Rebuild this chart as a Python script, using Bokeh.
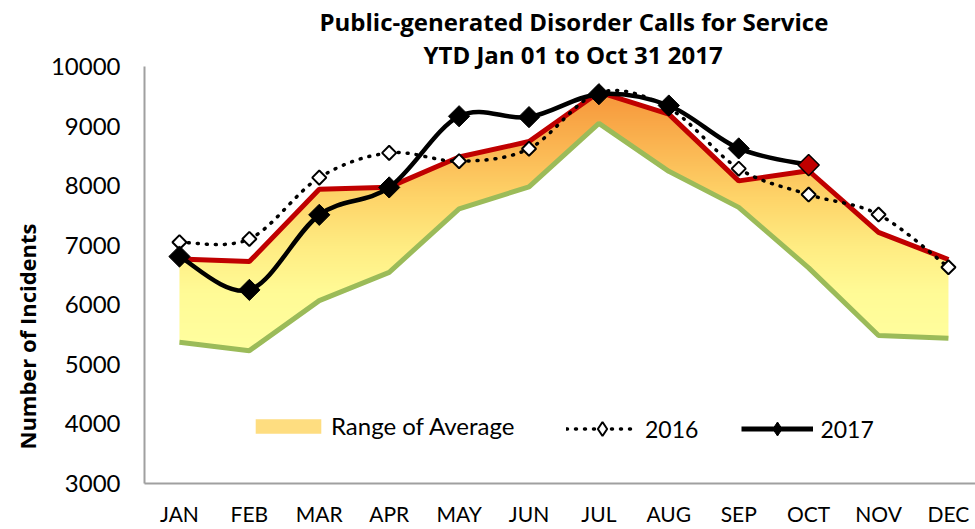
import numpy as np
from bokeh.plotting import figure
from bokeh.models import Range1d, FixedTicker, Legend, LegendItem, Title
from bokeh.embed import file_html
from bokeh.resources import INLINE

# ---------------- data ----------------
months = ["JAN", "FEB", "MAR", "APR", "MAY", "JUN", "JUL", "AUG", "SEP", "OCT", "NOV", "DEC"]
avg_high = [6770, 6725, 7940, 7975, 8480, 8740, 9570, 9200, 8080, 8250, 7215, 6760]
avg_low = [5370, 5230, 6070, 6545, 7610, 7980, 9045, 8240, 7635, 6620, 5485, 5440]
calls_2016 = [7050, 7105, 8135, 8550, 8410, 8620, 9560, 9300, 8285, 7850, 7515, 6630]
calls_2017 = [6810, 6250, 7510, 7970, 9165, 9150, 9535, 9345, 8625, 8345]
y_ticks = [3000, 4000, 5000, 6000, 7000, 8000, 9000, 10000]

FONT = "Lato"
BOLD_FONT = "Open Sans"
AXIS_GRAY = "#A0A0A0"

p = figure(width=975, height=529, output_backend="svg", toolbar_location=None,
           title=None,
           x_range=Range1d(-0.5, 11.387), y_range=Range1d(3000, 10000),
           min_border_left=144, min_border_right=0, min_border_top=66, min_border_bottom=46)
p.grid.visible = False
p.outline_line_color = None
p.background_fill_color = "white"

idx = np.arange(len(months))

# ---------- gradient band (Range of Average) ----------
g_lo, g_hi = min(avg_low), max(avg_high)
rows = 256
vals = np.linspace(g_lo, g_hi, rows)
stop_v = [5200, 6200, 7000, 7800, 8600, 9600]
stop_rgb = [(255, 255, 160), (255, 251, 150), (255, 236, 130), (254, 212, 105), (251, 184, 84), (247, 150, 58)]
img = np.empty((rows, 2, 4), dtype=np.uint8)
for c in range(3):
    img[:, :, c] = np.interp(vals, stop_v, [s[c] for s in stop_rgb]).astype(np.uint8)[:, None]
img[:, :, 3] = 255
p.image_rgba(image=[img.view(np.uint32).reshape(rows, 2)], x=0, y=g_lo,
             dw=len(months) - 1, dh=g_hi - g_lo)
# white masks outside the band (padded a little sideways to hide image edge seams)
pad = 0.1
mx = [idx[0] - pad] + list(idx) + [idx[-1] + pad]
mhi = [avg_high[0]] + avg_high + [avg_high[-1]]
mlo = [avg_low[0]] + avg_low + [avg_low[-1]]
p.varea(x=mx, y1=mhi, y2=g_hi + 200, fill_color="white")
p.varea(x=mx, y1=g_lo - 200, y2=mlo, fill_color="white")

p.line(idx, avg_low, line_color="#9BBB59", line_width=5)
p.line(idx, avg_high, line_color="#C00000", line_width=5)


# ---------- smoothed series ----------
def smooth(xs, ys):
    xs = list(xs); ys = list(ys); n = len(ys)
    seg = dict(x0=[], y0=[], x1=[], y1=[], cx0=[], cy0=[], cx1=[], cy1=[])
    for i in range(n - 1):
        a = max(i - 1, 0); d = min(i + 2, n - 1)
        seg["x0"].append(xs[i]); seg["y0"].append(ys[i])
        seg["x1"].append(xs[i + 1]); seg["y1"].append(ys[i + 1])
        seg["cx0"].append(xs[i] + (xs[i + 1] - xs[a]) / 6.0)
        seg["cy0"].append(ys[i] + (ys[i + 1] - ys[a]) / 6.0)
        seg["cx1"].append(xs[i + 1] - (xs[d] - xs[i]) / 6.0)
        seg["cy1"].append(ys[i + 1] - (ys[d] - ys[i]) / 6.0)
    return seg


x16 = idx[:len(calls_2016)]
x17 = idx[:len(calls_2017)]
p.bezier(**smooth(x16, calls_2016), line_color="black", line_width=3.5,
         line_dash="1 8", line_cap="round")
p.scatter(x16, calls_2016, marker="square", angle=np.pi / 4, size=10,
          fill_color="white", line_color="black", line_width=2)

p.bezier(**smooth(x17, calls_2017), line_color="black", line_width=4.5)
p.scatter(x17[:-1], calls_2017[:-1], marker="square", angle=np.pi / 4, size=15,
          fill_color="black", line_color="black", line_width=1)
p.scatter(x17[-1:], calls_2017[-1:], marker="square", angle=np.pi / 4, size=15,
          fill_color="#C00000", line_color="black", line_width=1.5)

# ---------- axes ----------
p.xaxis.ticker = FixedTicker(ticks=list(idx))
p.xaxis.major_label_overrides = {int(i): m for i, m in zip(idx, months)}
p.yaxis.ticker = FixedTicker(ticks=y_ticks)
for ax in (p.xaxis, p.yaxis):
    ax.axis_line_color = AXIS_GRAY
    ax.axis_line_width = 2
    ax.major_tick_line_color = None
    ax.minor_tick_line_color = None
    ax.major_tick_out = 0
    ax.major_tick_in = 0
    ax.major_label_text_font = FONT
    ax.major_label_text_color = "black"
p.xaxis.major_label_text_font_size = "21px"
p.yaxis.major_label_text_font_size = "24px"
p.yaxis.major_label_standoff = 24
p.xaxis.major_label_standoff = 17

# y-axis title (side title, placed below centre like the original)
p.add_layout(Title(text="Number of Incidents", align="left", offset=34, standoff=12,
                   text_font=BOLD_FONT, text_font_size="22px", text_font_style="bold",
                   text_color="black"), "left")

# ---------- titles ----------
t2 = Title(text="YTD Jan 01 to Oct 31 2017", align="left", offset=279, standoff=-8,
           text_font=BOLD_FONT, text_font_size="24px", text_font_style="bold", text_color="black")
t1 = Title(text="Public-generated Disorder Calls for Service", align="left", offset=175, standoff=4,
           text_font=BOLD_FONT, text_font_size="24px", text_font_style="bold", text_color="black")
p.add_layout(t2, "above")
p.add_layout(t1, "above")

# ---------- legends ----------
nan = [np.nan]
d_range = p.varea(x=nan, y1=nan, y2=nan, fill_color="#FEDD80")
d16l = p.line(x=nan, y=nan, line_color="black", line_width=3.5, line_dash="1 8", line_cap="round")
d16m = p.scatter(x=nan, y=nan, marker="diamond", fill_color="white", line_color="black", line_width=2)
d17l = p.line(x=nan, y=nan, line_color="black", line_width=5)
d17m = p.scatter(x=nan, y=nan, marker="diamond", fill_color="black", line_color="black")

common = dict(orientation="horizontal", padding=0, margin=0, border_line_color=None,
              background_fill_alpha=0, label_text_font=FONT, label_text_color="black")
leg1 = Legend(items=[LegendItem(label="Range of Average", renderers=[d_range])],
              location=(103, 43), glyph_width=82, glyph_height=18, label_standoff=2,
              label_text_font_size="24px", **common)
leg2 = Legend(items=[LegendItem(label="2016", renderers=[d16l, d16m]),
                     LegendItem(label="2017", renderers=[d17l, d17m])],
              location=(422, 37), glyph_width=72, glyph_height=35, label_standoff=7,
              spacing=43, label_text_font_size="23px", **common)
p.add_layout(leg1)
p.add_layout(leg2)

open("out.html", "w").write(file_html(p, INLINE))
